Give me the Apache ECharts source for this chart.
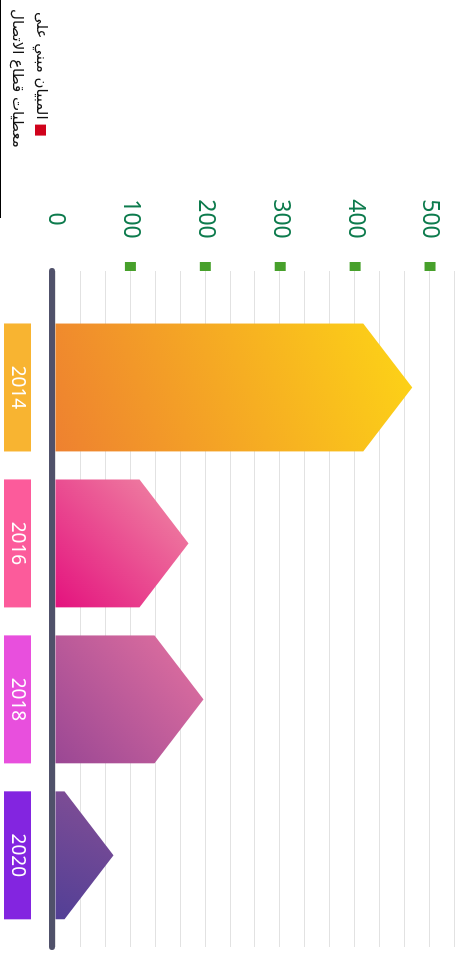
<!DOCTYPE html>
<html>
<head>
<meta charset="utf-8">
<script src="https://cdn.jsdelivr.net/npm/echarts@6/dist/echarts.min.js"></script>
<style>
html, body { margin: 0; padding: 0; width: 461px; height: 957px; overflow: hidden; background: #fff; }
/* chart is laid out landscape, then turned a quarter clockwise */
#chart { position: absolute; left: 0; top: 0; width: 957px; height: 461px; transform-origin: 0 0; transform: translateX(461px) rotate(90deg); }
</style>
</head>
<body>
<div id="chart"></div>
<script>
var years = ['2014', '2016', '2018', '2020'];
var values = [411, 112, 132, 12];
var yTicks = [0, 100, 200, 300, 400, 500];
var boxColors = ['#F8B431', '#FC5B9B', '#E84FDD', '#8325E0'];
var barStart = ['#EE8130', '#E4127E', '#9A4794', '#523F96'];
var barEnd = ['#FDD516', '#F08EA6', '#E472A0', '#844F95'];
var legendName = 'المبيان مبني على';
var legendNote = 'معطيات قطاع الاتصال';

var chart = echarts.init(document.getElementById('chart'));
var step = 100 / 3;
var yMax = 1600 / 3;

var boxRich = {};
years.forEach(function (y, i) {
    boxRich['c' + i] = {
        backgroundColor: boxColors[i],
        color: '#fff',
        width: 128,
        height: 27,
        lineHeight: 27,
        align: 'center',
        fontSize: 19,
        fontFamily: 'Noto Sans'
    };
});

function yLabel(v) {
    var r = Math.round(v);
    if (Math.abs(v - r) > 0.01 || yTicks.indexOf(r) < 0) return '';
    return '{v|' + r + '}{g|}' + (r === 0 ? '{n|}' : '{s|}');
}

function renderArrow(params, api) {
    var i = api.value(0);
    var base = api.coord([i, 0]);
    var top = api.coord([i, api.value(1)]);
    var hw = api.size([1, 0])[0] * 0.82 / 2;
    var tip = 49;
    var cx = base[0];
    return {
        type: 'polygon',
        shape: {
            points: [
                [cx - hw, base[1]],
                [cx - hw, top[1]],
                [cx, top[1] - tip],
                [cx + hw, top[1]],
                [cx + hw, base[1]]
            ]
        },
        style: {
            fill: new echarts.graphic.LinearGradient(1, 1, 0, 0, [
                { offset: 0, color: barStart[i] },
                { offset: 1, color: barEnd[i] }
            ])
        }
    };
}

var option = {
    animation: false,
    grid: [
        { left: 271, right: 10, top: 6, bottom: 55.5 },
        { left: 309.5, right: 23.7, top: 6, bottom: 55.5 }
    ],
    legend: {
        left: 12,
        top: 413,
        align: 'right',
        icon: 'rect',
        itemWidth: 11,
        itemHeight: 11,
        padding: 0,
        textStyle: { fontSize: 15, color: '#111', fontFamily: 'DejaVu Sans' },
        data: [{ name: legendName, itemStyle: { color: '#D0021B' } }]
    },
    title: {
        text: legendNote,
        left: 9,
        top: 437,
        padding: 0,
        textStyle: { fontSize: 15, fontWeight: 'normal', color: '#111', fontFamily: 'DejaVu Sans' }
    },
    graphic: [{
        type: 'line',
        shape: { x1: 0, y1: 460.5, x2: 218, y2: 460.5 },
        style: { stroke: '#000', lineWidth: 1 }
    }],
    xAxis: [
        {
            gridIndex: 0,
            type: 'category',
            data: years,
            position: 'bottom',
            offset: 3,
            axisLine: { onZero: false, lineStyle: { color: '#50516A', width: 6, cap: 'round' } },
            axisTick: { show: false },
            axisLabel: { show: false },
            splitLine: { show: false }
        },
        {
            gridIndex: 1,
            type: 'category',
            data: years,
            axisLine: { show: false },
            axisTick: { show: false },
            axisLabel: {
                margin: 24.5,
                formatter: function (v, i) { return '{c' + i + '|' + v + '}'; },
                rich: boxRich
            }
        }
    ],
    yAxis: [
        {
            gridIndex: 0,
            type: 'value',
            min: 0,
            max: yMax,
            interval: step,
            axisLine: { show: false },
            axisTick: { show: false },
            splitLine: { lineStyle: { color: '#E2E2E2', width: 1 } },
            axisLabel: {
                margin: 0,
                formatter: yLabel,
                rich: {
                    v: { width: 40, align: 'center', verticalAlign: 'middle', fontSize: 23, color: '#0D7B4D', fontFamily: 'Noto Sans' },
                    g: { width: 23 },
                    s: { width: 9, height: 11, backgroundColor: '#47A02B', verticalAlign: 'middle' },
                    n: { width: 9, height: 11 }
                }
            }
        },
        { gridIndex: 1, type: 'value', min: 0, max: yMax, interval: step, show: false }
    ],
    series: [{
        type: 'custom',
        name: legendName,
        xAxisIndex: 1,
        yAxisIndex: 1,
        itemStyle: { color: '#D0021B' },
        encode: { x: 0, y: 1 },
        data: values.map(function (v, i) { return [i, v]; }),
        renderItem: renderArrow
    }]
};

chart.setOption(option);
</script>
</body>
</html>
